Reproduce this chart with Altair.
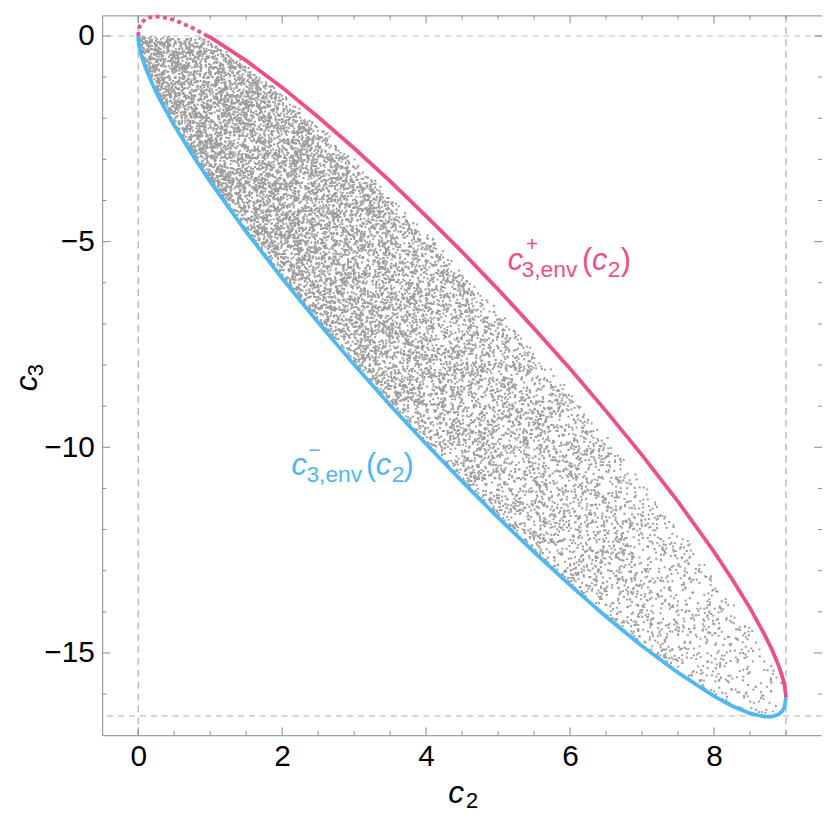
import altair as alt
import pandas as pd
import numpy as np

# ---------------- data ----------------
# upper envelope c3+(c2): dotted part (c3 > 0) and solid part
pink_dot_c2 = [0, 0.005, 0.01, 0.02, 0.05, 0.1, 0.2, 0.3, 0.5, 0.75, 0.96]
pink_dot_c3 = [0, 0.12, 0.17, 0.23, 0.33, 0.41, 0.47, 0.47, 0.39, 0.2, 0.0]
pink_c2 = [0.96, 1, 1.5, 2, 2.5, 3, 3.5, 4, 4.5, 5, 5.5, 6, 6.5, 7, 7.5, 8,
           8.25, 8.5, 8.7, 8.8, 8.9, 8.95, 8.98, 9]
pink_c3 = [0.0, -0.03, -0.6, -1.25, -1.97, -2.73, -3.53, -4.38, -5.25, -6.16,
           -7.11, -8.09, -9.12, -10.19, -11.32, -12.54,
           -13.2, -13.91, -14.55, -14.9, -15.32, -15.58, -15.79, -16.08]
# lower envelope c3-(c2)
blue_c2 = [0, 0.005, 0.02, 0.05, 0.1, 0.2, 0.3, 0.5, 0.75, 1,
           1.5, 2, 2.5, 3, 3.5, 4, 4.5, 5, 5.5, 6, 6.5, 7, 7.5, 8,
           8.25, 8.5, 8.7, 8.8, 8.9, 8.95, 8.98, 9]
blue_c3 = [0, -0.14, -0.3, -0.5, -0.76, -1.18, -1.54, -2.17, -2.88, -3.54,
           -4.76, -5.89, -6.97, -7.99, -8.98, -9.92, -10.83, -11.71, -12.55, -13.35,
           -14.12, -14.83, -15.48, -16.05,
           -16.29, -16.47, -16.55, -16.55, -16.49, -16.41, -16.31, -16.08]

# dashed guide lines
guide_c2 = [0, 9]
guide_c3 = [0, -16.53]

# tick labels / tick marks
x_tick_labels = [0, 2, 4, 6, 8]
x_minor = [0.5, 1, 1.5, 2.5, 3, 3.5, 4.5, 5, 5.5, 6.5, 7, 7.5, 8.5, 9]
y_tick_labels = [0, -5, -10, -15]
y_minor = [-1, -2, -3, -4, -6, -7, -8, -9, -11, -12, -13, -14, -16]

# sample cloud: relative density and upper reach (fraction of band) along c2
cloud_c2 = [0, 1, 2, 3, 4, 5, 6, 7, 8, 9]
cloud_density = [1.0, 0.88, 0.74, 0.62, 0.5, 0.4, 0.31, 0.23, 0.16, 0.12]
cloud_top = [1.0, 1.0, 0.98, 0.96, 0.94, 0.92, 0.9, 0.87, 0.84, 0.8]

PINK = "#EF4E8B"
BLUE = "#4DB8F2"
FONT = "Liberation Sans"

# ---------------- build the sample cloud (texture) ----------------
env_x = pink_dot_c2[:-1] + pink_c2
env_hi = pink_dot_c3[:-1] + pink_c3
rng = np.random.default_rng(7)
K = 720
px_list, py_list = [], []
edges = np.linspace(0, 9, 181)
for a, b in zip(edges[:-1], edges[1:]):
    xc = 0.5 * (a + b)
    lo = np.interp(xc, blue_c2, blue_c3)
    hi = min(np.interp(xc, env_x, env_hi), 0.0)
    frac = np.interp(xc, cloud_c2, cloud_top)
    dens = np.interp(xc, cloud_c2, cloud_density)
    n = rng.poisson(K * dens * (hi - lo) * frac * (b - a))
    if n == 0:
        continue
    x = rng.uniform(a, b, n)
    lo_x = np.interp(x, blue_c2, blue_c3)
    hi_x = np.minimum(np.interp(x, env_x, env_hi), 0.0)
    f = np.interp(x, cloud_c2, cloud_top) * (0.93 + 0.07 * rng.random(n))
    w = rng.random(n) * f
    y = lo_x + w * (hi_x - lo_x)
    px_list.append(x)
    py_list.append(y)
cloud = pd.DataFrame({"c2": np.round(np.concatenate(px_list), 3),
                      "c3": np.round(np.concatenate(py_list), 3)})

# ---------------- chart ----------------
W = 726
H = 726
xs = alt.Scale(domain=[-0.5, 9.5], nice=False, zero=False)
ys = alt.Scale(domain=[-17, 0.5], nice=False, zero=False)
x_axis = alt.Axis(values=x_tick_labels, labelFontSize=30, labelFont=FONT,
                  labelColor="black", ticks=False, domain=False, grid=False,
                  labelPadding=7, labelFlush=False)
y_axis = alt.Axis(values=y_tick_labels, labelFontSize=30, labelFont=FONT,
                  labelColor="black", ticks=False, domain=False, grid=False,
                  labelPadding=8, labelFlush=False)


def X(field="c2"):
    return alt.X(f"{field}:Q", scale=xs, axis=x_axis, title="")


def Y(field="c3"):
    return alt.Y(f"{field}:Q", scale=ys, axis=y_axis, title="")


layers = []

# dashed guides
layers.append(alt.Chart(pd.DataFrame({"c2": guide_c2})).mark_rule(
    color="#9a9a9a", strokeWidth=1, strokeDash=[7, 5]).encode(x=X()))
layers.append(alt.Chart(pd.DataFrame({"c3": guide_c3})).mark_rule(
    color="#bdbdbd", strokeWidth=1.2, strokeDash=[6, 5]).encode(y=Y()))

# cloud
layers.append(alt.Chart(cloud).mark_square(size=4, color="#9c9c9c", opacity=1).encode(
    x=X(), y=Y()))

# envelopes
blue_df = pd.DataFrame({"c2": blue_c2, "c3": blue_c3, "i": range(len(blue_c2))})
pink_df = pd.DataFrame({"c2": pink_c2, "c3": pink_c3, "i": range(len(pink_c2))})
pdot_df = pd.DataFrame({"c2": pink_dot_c2, "c3": pink_dot_c3, "i": range(len(pink_dot_c2))})
layers.append(alt.Chart(blue_df).mark_line(color=BLUE, strokeWidth=3.8).encode(
    x=X(), y=Y(), order="i:Q"))
layers.append(alt.Chart(pink_df).mark_line(color=PINK, strokeWidth=3.8).encode(
    x=X(), y=Y(), order="i:Q"))
layers.append(alt.Chart(pdot_df).mark_line(color=PINK, strokeWidth=3.8,
                                           strokeDash=[4, 3.5], strokeCap="butt").encode(
    x=X(), y=Y(), order="i:Q"))

# frame ticks (inside)
TC = "#888888"
for vals, ln in ((x_tick_labels, 8), (x_minor, 4)):
    d = pd.DataFrame({"c2": vals})
    layers.append(alt.Chart(d).mark_rule(color=TC, strokeWidth=1).encode(
        x=X(), y=alt.value(H), y2=alt.value(H - ln)))
    layers.append(alt.Chart(d).mark_rule(color=TC, strokeWidth=1).encode(
        x=X(), y=alt.value(0), y2=alt.value(ln)))
for vals, ln in ((y_tick_labels, 8), (y_minor, 4)):
    d = pd.DataFrame({"c3": vals})
    layers.append(alt.Chart(d).mark_rule(color=TC, strokeWidth=1).encode(
        y=Y(), x=alt.value(0), x2=alt.value(ln)))
    layers.append(alt.Chart(d).mark_rule(color=TC, strokeWidth=1).encode(
        y=Y(), x=alt.value(W), x2=alt.value(W - ln)))

one = pd.DataFrame({"k": [0]})


def txt(s, px, py, size, color="black", italic=False, angle=0):
    kw = dict(text=s, fontSize=size, color=color, font=FONT, align="left",
              baseline="alphabetic")
    if italic:
        kw["fontStyle"] = "italic"
    if angle:
        kw["angle"] = angle
    return alt.Chart(one).mark_text(**kw).encode(x=alt.value(px), y=alt.value(py))


# curve labels
layers += [
    txt("c", 409, 257, 31, PINK, italic=True),
    txt("+", 427.5, 238, 21, PINK),
    txt("3,env", 423, 264, 23, PINK),
    txt("(", 484, 257, 31, PINK),
    txt("c", 494, 257, 31, PINK, italic=True),
    txt("2", 510, 264, 23, PINK),
    txt(")", 523, 257, 31, PINK),
    txt("c", 191, 464, 31, BLUE, italic=True),
    txt("\u2212", 208, 445, 21, BLUE),
    txt("3,env", 206, 471, 23, BLUE),
    txt("(", 266, 464, 31, BLUE),
    txt("c", 276, 464, 31, BLUE, italic=True),
    txt("2", 292, 471, 23, BLUE),
    txt(")", 304, 464, 31, BLUE),
]

# axis titles
layers += [
    txt("c", 349, 794, 32, italic=True),
    txt("2", 367, 799, 22),
    txt("c", -66, 379, 32, italic=True, angle=270),
    txt("3", -60, 364, 22, angle=270),
]

chart = alt.layer(*layers).properties(
    width=W, height=H,
    padding={"left": 95, "top": 4, "right": 0, "bottom": 78},
    autosize=alt.AutoSizeParams(type="none"),
).configure_view(stroke="#888888", strokeWidth=1)

chart.save("out.html", embed_options={"renderer": "svg", "actions": False})
